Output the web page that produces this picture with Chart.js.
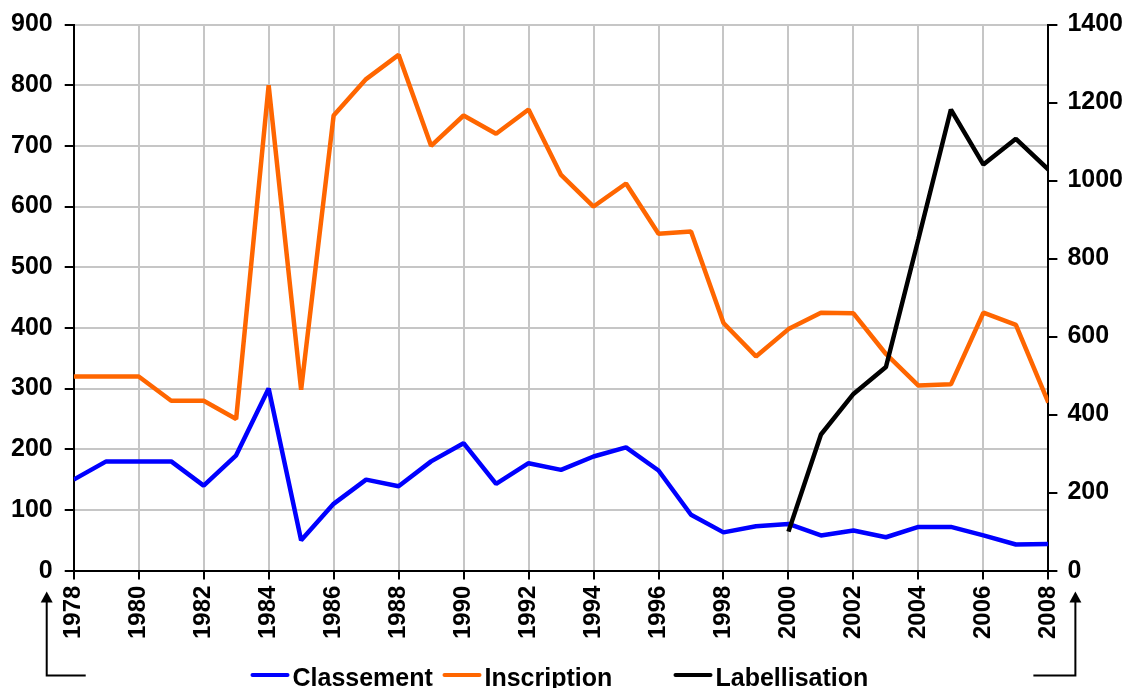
<!DOCTYPE html>
<html>
<head>
<meta charset="utf-8">
<script src="https://cdn.jsdelivr.net/npm/chart.js@4"></script>
<style>
    body { margin: 0; background: #fff; }
    #caixa { width: 1129px; height: 688px; position: relative; }
</style>
</head>
<body>
<div id="caixa"><canvas id="graficoSites"></canvas></div>
<script>
// Dados
const anos = [1978, 1979, 1980, 1981, 1982, 1983, 1984, 1985, 1986, 1987, 1988, 1989, 1990, 1991, 1992, 1993,
    1994, 1995, 1996, 1997, 1998, 1999, 2000, 2001, 2002, 2003, 2004, 2005, 2006, 2007, 2008];
const classement = [150, 180, 180, 180, 140, 190, 300, 50, 110, 150, 139, 180, 210, 143, 177, 166,
    188, 203, 165, 92, 63, 73, 77, 58, 66, 55, 72, 72, 58, 43, 44];
const inscription = [320, 320, 320, 280, 280, 250, 800, 298, 750, 810, 850, 700, 750, 720, 760, 652,
    600, 638, 555, 559, 408, 353, 398, 425, 424, 357, 305, 307, 425, 405, 277];
const labellisation = [null, null, null, null, null, null, null, null, null, null, null, null, null, null, null, null,
    null, null, null, null, null, null, 100, 349, 453, 522, 850, 1182, 1041, 1107, 1028];
const ticksEsquerda = [0, 100, 200, 300, 400, 500, 600, 700, 800, 900];
const ticksDireita = [0, 200, 400, 600, 800, 1000, 1200, 1400];

const fonte = 'Liberation Sans';
Chart.defaults.font.family = fonte;
Chart.defaults.font.weight = 'bold';
Chart.defaults.color = '#000';

function pontos(valores) {
    return anos.map((ano, i) => ({ x: ano, y: valores[i] }));
}

// setas decorativas nos cantos de baixo
const setasPlugin = {
    id: 'setas',
    afterDraw(chart) {
        const ctx = chart.ctx;
        const area = chart.chartArea;
        const yTopo = area.bottom + 21;
        const yBase = area.bottom + 105;
        const desenhaSeta = (x, xFim) => {
            ctx.save();
            ctx.strokeStyle = '#000';
            ctx.fillStyle = '#000';
            ctx.lineWidth = 2;
            ctx.beginPath();
            ctx.moveTo(x, yTopo + 8);
            ctx.lineTo(x, yBase);
            ctx.lineTo(xFim, yBase);
            ctx.stroke();
            ctx.beginPath();
            ctx.moveTo(x, yTopo);
            ctx.lineTo(x - 6, yTopo + 11);
            ctx.lineTo(x + 6, yTopo + 11);
            ctx.closePath();
            ctx.fill();
            ctx.restore();
        };
        desenhaSeta(area.left - 27, area.left + 12);
        desenhaSeta(area.right + 27, area.right - 15);
    }
};

// legenda em baixo, com espaçamento igual ao original
const legendaPlugin = {
    id: 'legendaBaixo',
    afterDraw(chart) {
        const ctx = chart.ctx;
        const centro = chart.width / 2;
        const inicios = [-312, -120, 111];
        ctx.save();
        ctx.font = 'bold 25px "' + fonte + '"';
        ctx.textBaseline = 'alphabetic';
        chart.data.datasets.forEach((ds, i) => {
            const x = centro + inicios[i];
            ctx.strokeStyle = ds.borderColor;
            ctx.lineWidth = 4;
            ctx.lineCap = 'round';
            ctx.beginPath();
            ctx.moveTo(x, 675);
            ctx.lineTo(x + 35, 675);
            ctx.stroke();
            ctx.fillStyle = '#000';
            ctx.fillText(ds.label, x + 40, 686);
        });
        ctx.restore();
    }
};

const ctx = document.getElementById('graficoSites').getContext('2d');
const graficoSites = new Chart(ctx, {
    type: 'line',
    data: {
        datasets: [
            {
                label: 'Classement',
                data: pontos(classement),
                borderColor: '#0000ff',
                yAxisID: 'y',
                order: 2
            },
            {
                label: 'Inscription',
                data: pontos(inscription),
                borderColor: '#ff6600',
                yAxisID: 'y',
                order: 3
            },
            {
                label: 'Labellisation',
                data: pontos(labellisation),
                borderColor: '#000000',
                yAxisID: 'y1',
                order: 1
            }
        ]
    },
    options: {
        responsive: true,
        maintainAspectRatio: false,
        animation: false,
        layout: { padding: { left: -1, right: -4, top: 10, bottom: 43 } },
        elements: {
            line: { borderWidth: 4.5, borderJoinStyle: 'bevel', tension: 0, fill: false },
            point: { radius: 0 }
        },
        plugins: {
            legend: { display: false },
            tooltip: { enabled: false }
        },
        scales: {
            x: {
                type: 'linear',
                min: anos[0],
                max: anos[anos.length - 1],
                grid: { color: '#c6c6c6', lineWidth: 2, tickColor: '#000', tickLength: 9 },
                border: { color: '#000', width: 2 },
                ticks: {
                    stepSize: 2,
                    minRotation: 90,
                    maxRotation: 90,
                    padding: 6,
                    font: { size: 24 },
                    callback: v => String(v)
                }
            },
            y: {
                position: 'left',
                min: ticksEsquerda[0],
                max: ticksEsquerda[ticksEsquerda.length - 1],
                grid: { color: '#c6c6c6', lineWidth: 2, tickColor: '#000', tickLength: 9 },
                border: { color: '#000', width: 2 },
                ticks: { stepSize: 100, padding: 12, font: { size: 25, lineHeight: 1 }, callback: v => String(v) },
                afterBuildTicks: axis => { axis.ticks = ticksEsquerda.map(v => ({ value: v })); }
            },
            y1: {
                position: 'right',
                min: ticksDireita[0],
                max: ticksDireita[ticksDireita.length - 1],
                grid: { drawOnChartArea: false, tickColor: '#000', tickLength: 9, lineWidth: 2 },
                border: { color: '#000', width: 2 },
                ticks: { stepSize: 200, padding: 10, font: { size: 25, lineHeight: 1 }, callback: v => String(v) },
                afterBuildTicks: axis => { axis.ticks = ticksDireita.map(v => ({ value: v })); }
            }
        }
    },
    plugins: [setasPlugin, legendaPlugin]
});
</script>
</body>
</html>
